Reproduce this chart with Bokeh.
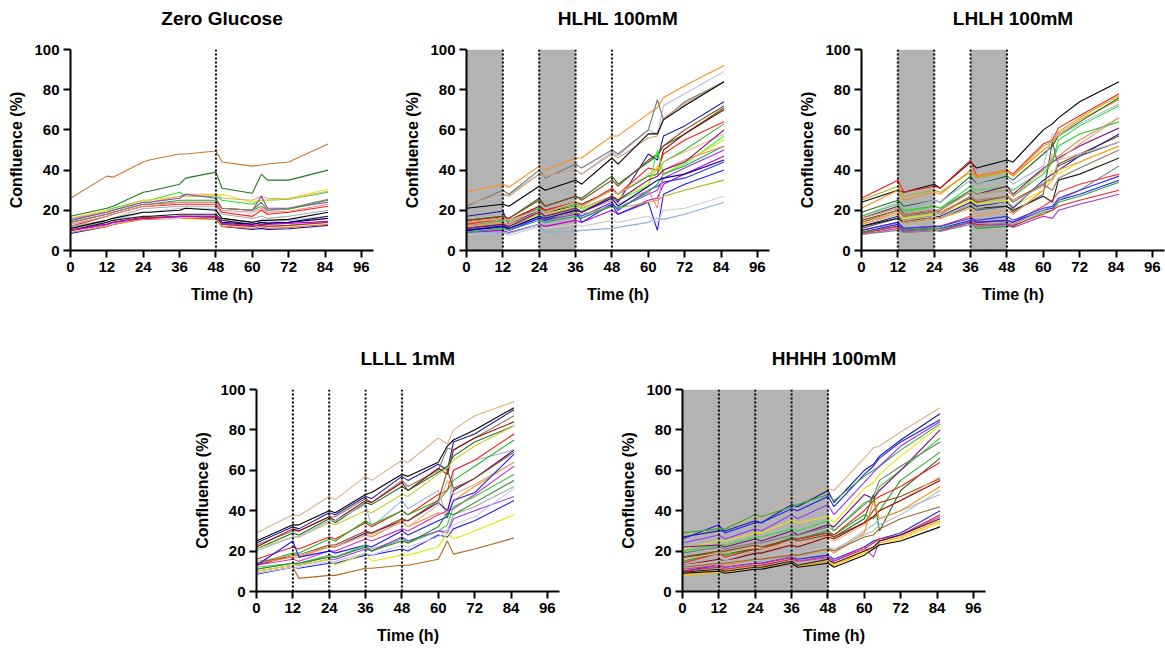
from bokeh.plotting import figure
from bokeh.layouts import column, row
from bokeh.models import Range1d, FixedTicker, Span
from bokeh.embed import file_html
from bokeh.resources import INLINE

# ---------------- data ----------------
TIME = [0, 12, 14, 24, 26, 36, 38, 48, 50, 60, 63, 65, 72, 85]
X_TICKS = [0, 12, 24, 36, 48, 60, 72, 84, 96]
Y_TICKS = [0, 20, 40, 60, 80, 100]

TITLES = ["Zero Glucose", "HLHL 100mM", "LHLH 100mM", "LLLL 1mM", "HHHH 100mM"]
SHADES = [[], [(0, 12), (24, 36)], [(12, 24), (36, 48)], [], [(0, 48)]]
DOTTED = [[48], [12, 24, 36, 48], [12, 24, 36, 48], [12, 24, 36, 48], [12, 24, 36, 48]]

ZG_COLORS = ["#c8782f", "#1f7a1f", "#33dd33", "#e6e600", "#d9a97a", "#9933cc", "#22aa22",
             "#8c7a6b", "#ff1a1a", "#e88c8c", "#aaaaaa", "#b0c4de", "#000000", "#222222",
             "#000080", "#0000ff", "#ff8000", "#c8c8f0", "#8b4513", "#cc00cc"]
ZG_VALUES = [
    [26, 37, 36.5, 44, 45, 48, 48, 49.5, 44, 42, 42.5, 43, 44, 53],
    [17, 21, 22, 29, 29.5, 33, 36, 39, 31, 28.5, 38, 35, 35, 40],
    [15, 20, 21, 25, 25, 29, 27, 27, 25, 23, 25, 25, 25.5, 29],
    [16, 20, 20, 25, 25, 27, 27, 27.5, 28, 24, 25, 25, 26, 30.5],
    [16, 19, 20, 24, 24, 27, 28, 28, 26, 25, 27, 26, 25.5, 29.5],
    [15, 19, 20, 24, 24, 26, 28, 26, 21, 20, 27, 21, 21, 24],
    [14, 18, 19, 23, 23, 25, 25, 25, 21, 20, 24, 20, 20.5, 25],
    [14, 18, 19, 23, 23, 24, 24, 24, 21, 20, 22, 20, 21, 25.5],
    [12, 17, 18, 22, 22, 23, 23, 23, 19, 17, 20, 18, 19, 22],
    [13, 17, 18, 22, 22, 24, 24, 24, 20, 19, 21, 19, 19.5, 23],
    [12, 15, 16, 21, 21, 22, 22, 22, 18, 16, 17, 16, 17, 20],
    [11, 14, 15, 19, 19, 21, 21, 21, 16, 14, 15, 14, 15, 17],
    [11, 15, 16, 19, 19, 20, 21, 20, 16, 14, 15, 15, 15.5, 19],
    [10, 14, 15, 17, 17, 18, 18, 18, 15, 13, 14, 13.5, 14, 17],
    [10, 13, 14, 16, 16, 17, 17, 17, 14, 13, 14, 13.5, 14, 16],
    [8.5, 12, 13, 16, 16, 16, 16, 16, 12, 10.5, 11, 10.5, 10.8, 12.5],
    [9, 12, 13, 15.5, 15.5, 16, 16, 15.5, 12, 11, 12, 11, 11.5, 13],
    [9.5, 12.5, 13.5, 16, 16, 16, 17, 16, 13, 12, 12.5, 12, 12.5, 14],
    [10, 13, 14, 16.5, 16.5, 17, 17, 16.5, 13, 12, 12.5, 12, 12.5, 14],
    [10, 13, 14, 16, 16, 17, 17, 17, 13.5, 12.5, 13, 13, 13.5, 14.5],
]

HLHL_COLORS = ["#ff8c1a", "#b8b8e6", "#777777", "#d2a06e", "#000000", "#1a1a99", "#1e6e1e",
               "#8b4513", "#990000", "#ff2020", "#33bb33", "#33ff33", "#e6e600", "#e8b888",
               "#9933cc", "#cc00cc", "#1a1aff", "#3333ff", "#b3b31a", "#cccccc", "#88b0dd",
               "#22aa66", "#f08080", "#0000aa", "#800080"]
HLHL_VALUES = [
    [29, 33, 31.5, 42, 40, 46, 46, 57, 57, 68, 71, 76, 82, 92],
    [23, 27, 28, 38, 36, 40, 38, 49, 47, 60, 58, 72, 78, 89],
    [22, 30, 28, 40, 36, 43, 41, 50, 48, 60, 75, 65, 74, 84],
    [23, 28, 27, 38, 37, 40, 38, 48, 46, 56, 57, 66, 73, 84],
    [21, 23, 22, 32, 30, 35, 33, 46, 43, 58, 58, 65, 72, 84],
    [17, 19.5, 13, 20, 19, 22, 21, 27, 24, 48, 45, 57, 62, 74],
    [15, 17, 16, 26, 22, 27, 26, 37, 33, 44, 47, 52, 58, 71],
    [15, 17, 16, 25, 22, 27, 25, 35, 32, 45, 48, 52, 60, 72],
    [14, 16, 15, 22, 20, 24, 23, 30, 28, 37, 38, 50, 58, 70],
    [13, 16, 15, 21, 20, 24, 22, 31, 28, 41, 40, 48, 55, 64],
    [12, 15, 14, 21, 19, 23, 22, 30, 28, 37, 38, 44, 50, 63],
    [11, 14, 12, 18, 17, 21, 20, 26, 25, 32, 50, 38, 43, 57],
    [12, 14, 13, 18, 18, 22, 21, 27, 26, 33, 42, 38, 44, 55],
    [14, 16, 15, 20, 19, 24, 22, 30, 28, 38, 40, 44, 49, 58],
    [10, 12, 11, 16, 15, 18, 16, 23, 21, 28, 30, 36, 41, 50],
    [9, 10, 9, 13, 12, 15, 14, 20, 18, 25, 26, 33, 38, 47],
    [10, 12, 10, 16, 15, 20, 14, 23, 18, 24, 10, 28, 33, 40],
    [11, 13, 11, 17, 16, 19, 17, 24, 20, 30, 32, 34, 36, 44],
    [11, 13, 12, 17, 16, 19, 18, 22, 21, 24, 25, 27, 30, 35],
    [8, 9, 7.5, 12, 11, 13, 12, 15, 14, 17, 14, 20, 21, 27],
    [8.5, 9, 8.5, 13, 9, 9.5, 10, 11, 11.5, 14, 16, 15.5, 18, 24],
    [9, 11, 10, 15, 14, 17, 16, 22, 21, 29, 33, 38, 42, 52],
    [12, 14, 13, 19, 18, 20, 19, 25, 23, 30, 21, 40, 45, 52],
    [10, 12, 11, 17, 16, 20, 19, 26, 22, 32, 35, 36, 38, 45],
    [11, 13, 12, 19, 17, 21, 19, 27, 25, 35, 37, 40, 44, 60],
]

LHLH_COLORS = ["#000000", "#ff1a1a", "#b3b31a", "#ff8c1a", "#1e6e1e", "#33dd33", "#a0b8e0",
               "#800080", "#8b4513", "#e0a878", "#e6e600", "#1a1a99", "#555555", "#222222",
               "#bbbbbb", "#ff9933", "#ff3333", "#1a1aff", "#22aa22", "#ee2222", "#aa33cc",
               "#888888", "#3333ff", "#8c7a6b", "#33cc33", "#cc9966"]
LHLH_VALUES = [
    [24, 30, 29, 33, 31, 44, 41, 45, 44, 60, 63, 66, 74, 84],
    [26, 35, 29, 32, 31, 45, 37, 40, 38, 53, 55, 61, 67, 78],
    [25, 32, 27, 30, 29, 39, 36, 39, 37, 52, 54, 59, 66, 77],
    [21, 30, 25, 29, 28, 40, 37, 40, 37, 50, 53, 58, 65, 75],
    [19, 25, 22, 25, 24, 37, 33, 37, 35, 48, 52, 57, 64, 76],
    [16, 21, 19, 22, 21, 32, 30, 32, 30, 40, 45, 55, 62, 72],
    [17, 24, 21, 25, 24, 35, 33, 36, 33, 42, 58, 57, 63, 73],
    [16, 22, 18, 20, 20, 30, 28, 32, 28, 41, 44, 46, 52, 61],
    [15, 20, 17, 20, 19, 26, 24, 27, 25, 33, 36, 43, 48, 57],
    [14, 19, 17, 19, 19, 27, 25, 28, 25, 32, 48, 45, 53, 66],
    [13, 18, 16, 18, 18, 25, 23, 25, 22, 30, 40, 38, 44, 52],
    [12, 17, 15, 17, 17, 24, 22, 24, 21, 35, 38, 40, 47, 58],
    [11, 16, 14, 16, 16, 22, 20, 22, 19, 28, 54, 42, 47, 54],
    [12, 16, 14, 17, 16, 23, 21, 22, 20, 27, 24, 35, 38, 46],
    [13, 18, 15, 17, 16, 23, 21, 24, 22, 34, 36, 45, 48, 54],
    [13, 19, 14, 16, 16, 21, 17, 20, 18, 30, 35, 40, 44, 52],
    [10, 14, 11, 12, 12, 17, 14, 15, 14, 22, 25, 29, 33, 38],
    [9, 13, 10, 11, 11, 15, 14, 15, 14, 20, 21, 25, 28, 35],
    [9, 12, 10, 11, 11, 14, 11, 12, 12, 19, 20, 24, 27, 34],
    [8.5, 12, 9, 10, 10, 14, 13, 13, 12.5, 18, 20, 22, 25, 30],
    [8, 11, 9.5, 10, 10, 14, 12, 13, 11.5, 17, 16, 20, 23, 28],
    [8, 10, 9, 10, 9.5, 13, 12, 14, 13, 20, 22, 25, 30, 42],
    [10, 14, 11, 12, 12, 16, 15, 17, 15, 21, 22, 26, 30, 37],
    [14, 20, 17, 19, 18, 27, 25, 27, 24, 33, 30, 36, 41, 50],
    [17, 23, 20, 22, 21, 30, 28, 30, 27, 38, 44, 52, 58, 64],
    [16, 21, 18, 20, 20, 29, 28, 30, 27, 40, 46, 47, 55, 66],
]

LLLL_COLORS = ["#ddb088", "#000000", "#1a1a99", "#8c7a6b", "#990000", "#1e6e1e", "#cccc33",
               "#99b8dd", "#ff1a1a", "#22bb22", "#4b0082", "#8b4513", "#ff8c1a", "#e0b090",
               "#cc33cc", "#1a1aff", "#33cc33", "#aaaaaa", "#9933ff", "#2222ee", "#e6e600",
               "#b8651b", "#c8c8f0", "#228b22"]
LLLL_VALUES = [
    [29, 38, 37.5, 47, 45.5, 57, 55, 65, 64, 76, 73, 80, 87, 94],
    [25, 33, 33, 40, 39, 48, 49, 58, 57, 64, 72, 75, 80, 91],
    [24, 32, 31, 39, 38, 47, 46, 57, 55, 63, 60, 74, 78, 90],
    [23, 30, 30, 37, 37, 46, 44, 55, 52, 60, 71, 70, 76, 87],
    [22, 31, 30, 37, 35, 45, 44, 54, 50, 61, 58, 70, 76, 84],
    [21, 29, 28, 36, 34, 44, 43, 52, 50, 59, 62, 67, 74, 82],
    [21, 27, 27, 34, 33, 40, 39, 48, 47, 58, 61, 65, 72, 82],
    [20, 27, 27, 35, 35, 43, 32, 45, 41, 50, 36, 60, 65, 70],
    [16, 22, 21, 27, 26, 34, 32, 40, 38, 48, 50, 60, 65, 78],
    [14, 19, 19, 26, 25, 35, 33, 40, 38, 45, 50, 55, 62, 75],
    [13, 18, 18, 22, 22, 29, 29, 35, 35, 44, 40, 50, 56, 70],
    [14, 18, 18, 23, 23, 30, 29, 36, 35, 45, 60, 51, 56, 69],
    [14, 17, 17, 22, 22, 28, 27, 35, 32, 39, 38, 45, 52, 64],
    [15, 18, 18, 22, 22, 28, 28, 34, 32, 43, 55, 48, 53, 64],
    [13, 16, 15, 20, 20, 26, 25, 31, 30, 38, 40, 41, 48, 62],
    [13, 25, 17, 20, 19, 23, 22, 30, 28, 35, 37, 45, 49, 68],
    [12, 14, 14, 18, 17, 23, 20, 26, 24, 30, 33, 42, 47, 58],
    [11, 14, 13, 18, 17, 22, 21, 26, 25, 30, 30, 38, 42, 52],
    [10, 13, 13, 16, 16, 21, 20, 27, 25, 30, 29, 36, 40, 47],
    [8.5, 12, 11.5, 14, 14, 18, 18, 21, 20, 28, 27, 31, 35, 45],
    [10, 13, 13, 16, 13, 19, 15, 18, 18, 22, 29, 26, 30, 38],
    [9, 12, 6.5, 8, 8, 11.5, 11.5, 13, 13, 16, 25, 18.5, 21, 26.5],
    [9, 12, 12, 15, 15, 19, 18, 23, 22, 27, 30, 33, 37, 51],
    [11, 14, 14, 17, 17, 22, 20, 25, 24, 32, 39, 38, 44, 55],
]

HHHH_COLORS = ["#ddb088", "#1a1a99", "#1a1aff", "#33aa33", "#9933ff", "#e6e600", "#33dd33",
               "#800080", "#777777", "#22aa22", "#1e6e1e", "#ff1a1a", "#8b4513", "#e8b888",
               "#990000", "#99b8dd", "#ff8c1a", "#bbbbbb", "#996633", "#2222ee", "#ee2222",
               "#cc33cc", "#ff9900", "#ffcc00", "#000000", "#222222"]
HHHH_VALUES = [
    [28, 32, 33, 37, 36, 47, 47, 51, 50, 66, 71, 72, 79, 91],
    [27, 30, 30, 35, 34, 43, 42, 50, 44, 60, 63, 67, 75, 88],
    [26, 33, 29, 34, 34, 41, 40, 47, 42, 58, 62, 66, 74, 85],
    [29, 31, 31, 38, 37, 42, 43, 48, 45, 57, 60, 62, 70, 83],
    [24, 28, 26, 31, 30, 38, 36, 43, 38, 54, 59, 62, 72, 84],
    [21, 25, 25, 29, 29, 35, 34, 37, 34, 51, 54, 58, 67, 82],
    [20, 23, 23, 27, 27, 31, 30, 35, 30, 44, 45, 52, 60, 76],
    [22, 23, 22, 26, 25, 30, 28, 33, 32, 48, 46, 50, 60, 80],
    [19, 22, 21, 24, 24, 28, 28, 32, 30, 43, 47, 55, 62, 74],
    [15, 19, 18, 21, 21, 27, 26, 30, 28, 38, 36, 40, 55, 69],
    [17, 19, 19, 21, 21, 26, 26, 29, 27, 36, 48, 30, 50, 66],
    [14, 19, 17, 21, 21, 26, 26, 29, 28, 40, 45, 47, 52, 64],
    [17, 20, 20, 23, 22, 26, 25, 28, 27, 34, 40, 44, 47, 56],
    [16, 19, 19, 22, 21, 24, 24, 26, 25, 33, 37, 40, 45, 57],
    [13, 16, 15, 19, 19, 23, 22, 27, 26, 34, 37, 40, 45, 55],
    [12, 15, 15, 17, 17, 20, 19, 22, 20, 30, 33, 36, 40, 48],
    [11, 14, 13, 16, 16, 19, 18, 21, 19, 29, 45, 36, 40, 52],
    [13, 15, 15, 17, 17, 19, 19, 22, 21, 28, 30, 33, 38, 50],
    [12, 14, 14, 16, 16, 18, 18, 21, 20, 27, 28, 31, 36, 42],
    [10, 13, 12, 14, 14, 17, 16, 18, 16, 22, 25, 26, 29, 40],
    [10, 12, 11, 13, 13, 16, 15, 17, 15, 21, 24, 26, 28, 38],
    [11, 13, 12, 14, 14, 17, 15, 17, 15, 22, 17, 25, 28, 37],
    [8.5, 10, 10, 12, 12, 14, 13, 15, 13, 20, 22, 24, 27, 35],
    [8, 9.5, 9.5, 12, 12, 14, 12.5, 14, 13, 19, 21, 23, 26, 34],
    [9, 10, 9, 11, 11, 14, 12, 14, 12, 18, 21, 23, 25, 32],
    [9.5, 11, 10, 12, 12, 15, 13, 16, 14, 20, 22, 25, 28, 36],
]

ALL_COLORS = [ZG_COLORS, HLHL_COLORS, LHLH_COLORS, LLLL_COLORS, HHHH_COLORS]
ALL_VALUES = [ZG_VALUES, HLHL_VALUES, LHLH_VALUES, LLLL_VALUES, HHHH_VALUES]

FONT = "Liberation Sans"
SHADE_COLOR = "#b3b3b3"

# borders: (left, right, top, bottom)
BORDERS = [(70, 20, 49, 60), (73, 13, 49, 60), (79, 1, 49, 60),
           (256, 47, 79, 60), (76, 1, 79, 60)]
FRAME_H = [201, 201, 201, 202, 202]


def make_panel(i):
    l, r, t, b = BORDERS[i]
    p = figure(frame_width=303, frame_height=FRAME_H[i],
               min_border_left=l, min_border_right=r, min_border_top=t, min_border_bottom=b,
               x_range=Range1d(0, 100), y_range=Range1d(0, 100),
               output_backend="svg", toolbar_location=None,
               title=TITLES[i] + "\n")
    p.title.align = "center"
    p.title.text_font = FONT
    p.title.text_font_size = "19px"
    p.title.text_font_style = "bold"
    p.title.text_color = "black"
    p.title.standoff = 0
    p.outline_line_color = None
    p.xgrid.visible = False
    p.ygrid.visible = False
    p.background_fill_color = "white"
    p.border_fill_color = "white"

    for (a, c) in SHADES[i]:
        p.quad(left=[a], right=[c], bottom=[0], top=[100], fill_color=SHADE_COLOR,
               line_color=None)
    for col, vals in zip(ALL_COLORS[i], ALL_VALUES[i]):
        p.line(TIME, vals, line_color=col, line_width=1.1)
    for d in DOTTED[i]:
        p.add_layout(Span(location=d, dimension="height", line_color="black",
                          line_width=2, line_dash="2 2"))

    for ax, ticks, lab in ((p.xaxis[0], X_TICKS, "Time (h)"),
                           (p.yaxis[0], Y_TICKS, "Confluence (%)")):
        ax.ticker = FixedTicker(ticks=ticks)
        ax.axis_label = lab
        ax.axis_label_text_font = FONT
        ax.axis_label_text_font_size = "16px"
        ax.axis_label_text_font_style = "bold"
        ax.axis_label_text_color = "black"
        ax.major_label_text_font = FONT
        ax.major_label_text_font_size = "15px"
        ax.major_label_text_font_style = "bold"
        ax.major_label_text_color = "black"
        ax.axis_line_width = 2
        ax.axis_line_color = "black"
        ax.major_tick_line_width = 2
        ax.major_tick_line_color = "black"
        ax.major_tick_in = 0
        ax.major_tick_out = 7
        ax.minor_tick_line_color = None
        ax.major_label_standoff = 4
    p.xaxis[0].axis_label_standoff = 11
    p.yaxis[0].axis_label_standoff = 6
    return p


panels = [make_panel(i) for i in range(5)]
layout = column(row(panels[0], panels[1], panels[2]), row(panels[3], panels[4]))

open("out.html", "w").write(file_html(layout, INLINE))
